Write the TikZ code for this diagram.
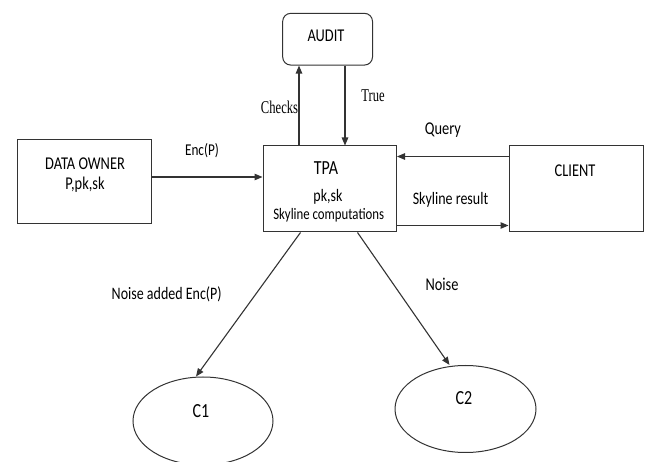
\documentclass[tikz,border=0pt]{standalone}
\usepackage{fontspec}
\setmainfont{Carlito}[FakeStretch=0.8]
\newfontfamily\serifcond{Liberation Serif}[FakeStretch=0.7]
\usetikzlibrary{arrows.meta,shapes.geometric,calc}

\definecolor{ink}{HTML}{333333}

\tikzset{
  box/.style={draw=ink, line width=1pt, minimum width=#1, inner sep=0pt},
  flow/.style={draw=ink, line width=1.1pt, -{Triangle[length=8pt,width=6.5pt]}},
  txt/.style={anchor=base, inner sep=0pt, font=\fontsize{18}{20}\selectfont},
  sertxt/.style={anchor=base, inner sep=0pt, font=\serifcond\fontsize{18}{20}\selectfont},
  cloud/.style={draw=ink, line width=1pt, ellipse, inner sep=0pt},
}

\begin{document}
\begin{tikzpicture}[x=1pt, y=-1pt]
\useasboundingbox (0,0) rectangle (646,462);

% boxes
\node[box=89.8pt, minimum height=51.7pt, rounded corners=8pt] (audit) at (327.6,39.2) {};
\node[box=134pt, minimum height=84pt] (owner) at (84,182) {};
\node[box=133.5pt, minimum height=86pt] (tpa) at (329.75,189) {};
\node[box=134pt, minimum height=86pt] (client) at (576,189) {};

% clouds
\node[cloud, minimum width=140pt, minimum height=88pt] (c1) at (203,421) {};
\node[cloud, minimum width=141pt, minimum height=87pt] (c2) at (465.5,409) {};

% texts inside shapes
\node[txt] (tAudit) at (326,41.6) {AUDIT};
\node[txt] (tOwner) at (85,169.3) {DATA OWNER};
\node[txt] (tOwnerKeys) at (85,190) {P,pk,sk};
\node[txt, font=\fontsize{20}{22}\selectfont] (tTpa) at (326,175) {TPA};
\node[txt, font=\fontsize{17.5}{19}\selectfont] (tTpaKeys) at (328,201.7) {pk,sk};
\node[txt, font=\fontsize{16}{18}\selectfont] (tTpaComp) at (328.7,219.3) {Skyline computations};
\node[txt] (tClient) at (575,176.7) {CLIENT};
\node[txt, font=\fontsize{20}{22}\selectfont] (tC1) at (201,417.3) {C1};
\node[txt, font=\fontsize{20}{22}\selectfont] (tC2) at (464,404.3) {C2};

% connectors
\draw[flow] ([xshift=-30.75pt]tpa.north) -- ([xshift=-28.6pt]audit.south);
\draw[flow] ([xshift=17.4pt]audit.south) -- ([xshift=15.25pt]tpa.north);
\draw[flow] ([yshift=5pt]owner.east) -- ([yshift=12pt]tpa.west);
\draw[flow] ([yshift=32.5pt]client.west) -- ([yshift=32.5pt]tpa.east);
\draw[flow] ([yshift=-36.5pt]tpa.east) -- ([yshift=-36.5pt]client.west);
\draw[flow] ([xshift=-29.25pt]tpa.south) -- ([xshift=-7pt]c1.north);
\draw[flow] ([xshift=27.75pt]tpa.south) -- ([xshift=-16pt]c2.north);

% connector labels
\node[sertxt] (lChecks) at (279.5,113.3) {Checks};
\node[sertxt] (lTrue) at (373,101.7) {True};
\node[txt, font=\fontsize{16.5}{18}\selectfont] (lEnc) at (202,156) {Enc(P)};
\node[txt] (lQuery) at (443,135) {Query};
\node[txt, font=\fontsize{17.5}{19}\selectfont] (lResult) at (450.5,205) {Skyline result};
\node[txt, font=\fontsize{17.5}{19}\selectfont] (lNoisy) at (166.7,300) {Noise added Enc(P)};
\node[txt] (lNoise) at (442,291) {Noise};
\end{tikzpicture}
\end{document}
